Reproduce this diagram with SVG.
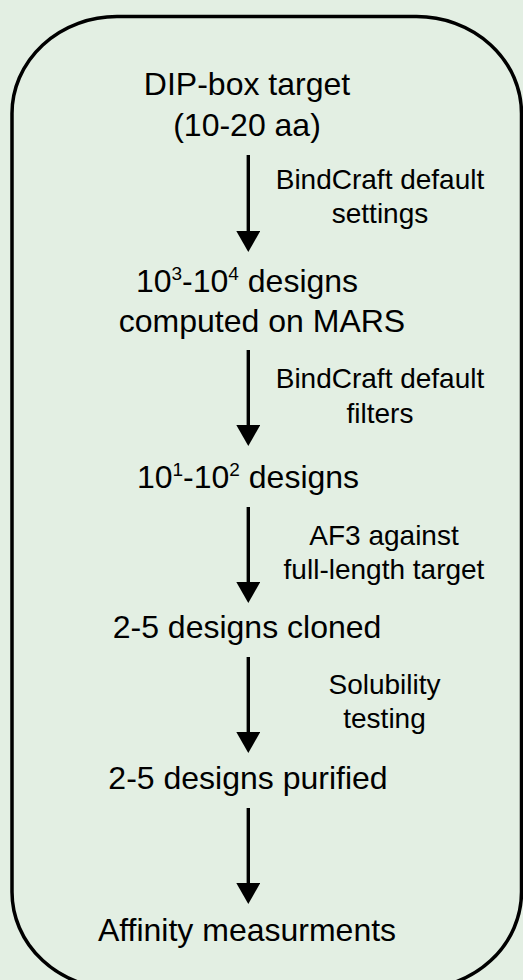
<svg xmlns="http://www.w3.org/2000/svg" width="523" height="980" viewBox="0 0 523 980">
  <style>
    .main { font-family: "Liberation Sans", Arial, sans-serif; font-size: 32px; fill: #000; text-anchor: middle; }
    .lbl { font-family: "Liberation Sans", Arial, sans-serif; font-size: 28px; fill: #000; text-anchor: middle; }
    .sup { font-size: 19px; }
    .conn { stroke: #000; stroke-width: 3.4; fill: none; marker-end: url(#arrow); }
  </style>
  <defs>
    <marker id="arrow" markerUnits="userSpaceOnUse" markerWidth="22" markerHeight="24" refX="1" refY="12" orient="auto" viewBox="0 0 22 24">
      <path d="M0,0 L21,12 L0,24 Z" fill="#000"/>
    </marker>
  </defs>
  <rect x="0" y="0" width="523" height="980" fill="#E3EFE3"/>
  <g id="frame">
    <path d="M117,16.5 L416.5,16.5 A105,97 0 0 1 521.5,113.5 L521.5,892 A105,97 0 0 1 416.5,989 L117,989 A105,97 0 0 1 12,892 L12,113.5 A105,97 0 0 1 117,16.5 Z" fill="none" stroke="#000" stroke-width="3.5"/>
  </g>
  <g id="n1">
    <text class="main" x="247" y="95">DIP-box target</text>
    <text class="main" x="247" y="136">(10-20 aa)</text>
  </g>
  <g id="n2">
    <text class="main" x="247" y="292">10<tspan class="sup" dy="-12">3</tspan><tspan dy="12">-10</tspan><tspan class="sup" dy="-12">4</tspan><tspan dy="12"> designs</tspan></text>
    <text class="main" x="262" y="332">computed on MARS</text>
  </g>
  <g id="n3">
    <text class="main" x="248" y="488">10<tspan class="sup" dy="-12">1</tspan><tspan dy="12">-10</tspan><tspan class="sup" dy="-12">2</tspan><tspan dy="12"> designs</tspan></text>
  </g>
  <g id="n4">
    <text class="main" x="247" y="638">2-5 designs cloned</text>
  </g>
  <g id="n5">
    <text class="main" x="248" y="789">2-5 designs purified</text>
  </g>
  <g id="n6">
    <text class="main" x="247" y="941">Affinity measurments</text>
  </g>
  <g id="connectors">
    <line class="conn" x1="248.3" y1="155" x2="248.3" y2="232"/>
    <line class="conn" x1="248.3" y1="350" x2="248.3" y2="426"/>
    <line class="conn" x1="248.3" y1="507" x2="248.3" y2="583"/>
    <line class="conn" x1="248.3" y1="657" x2="248.3" y2="733"/>
    <line class="conn" x1="248.3" y1="808" x2="248.3" y2="884"/>
  </g>
  <g id="labels">
    <text class="lbl" x="380" y="189">BindCraft default</text>
    <text class="lbl" x="380" y="223">settings</text>
    <text class="lbl" x="380" y="388">BindCraft default</text>
    <text class="lbl" x="380" y="423">filters</text>
    <text class="lbl" x="384" y="545">AF3 against</text>
    <text class="lbl" x="384" y="579">full-length target</text>
    <text class="lbl" x="384.5" y="694">Solubility</text>
    <text class="lbl" x="384.5" y="728">testing</text>
  </g>
</svg>
